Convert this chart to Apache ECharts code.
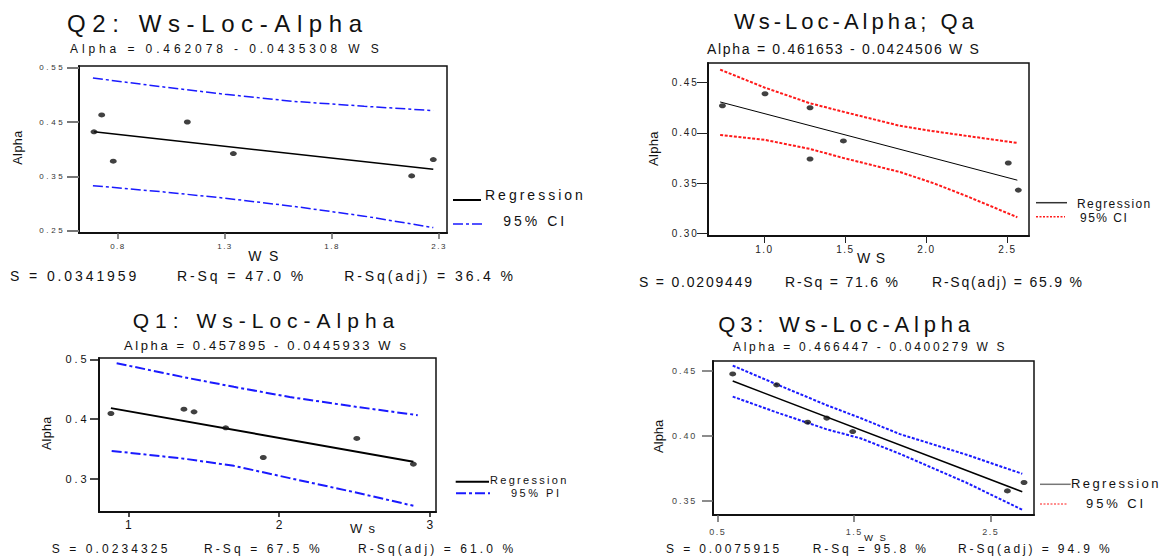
<!DOCTYPE html>
<html>
<head>
<meta charset="utf-8">
<title>Ws-Loc-Alpha regressions</title>
<script src="https://cdn.jsdelivr.net/npm/echarts@6/dist/echarts.min.js"></script>
<style>
  html, body { margin: 0; padding: 0; background: #fff; }
  #chart { width: 1162px; height: 559px; }
</style>
</head>
<body>
<div id="chart"></div>
<script>
// ---------- Q2: Ws-Loc-Alpha ----------
const q2Fit = { b0: 0.462078, b1: 0.0435308 };
const q2Ws = [0.688, 0.724, 0.778, 1.124, 1.339, 2.172, 2.273];
const q2Alpha = [0.432, 0.463, 0.378, 0.450, 0.392, 0.351, 0.381];
const q2LineWs = [0.688, 2.273];
const q2BandWs = [0.683, 1.0, 1.3, 1.62, 1.95, 2.273];
const q2Upper = [0.531, 0.515, 0.501, 0.488, 0.479, 0.471];
const q2Lower = [0.333, 0.322, 0.310, 0.295, 0.277, 0.256];
const q2XTicks = [0.8, 1.3, 1.8, 2.3];
const q2YTicks = [0.25, 0.35, 0.45, 0.55];
const q2Stats = ['S = 0.0341959', 'R-Sq = 47.0 %', 'R-Sq(adj) = 36.4 %'];

// ---------- Ws-Loc-Alpha; Qa ----------
const qaFit = { b0: 0.461653, b1: 0.0424506 };
const qaWs = [0.741, 1.004, 1.282, 1.488, 1.282, 2.506, 2.568];
const qaAlpha = [0.427, 0.439, 0.425, 0.392, 0.374, 0.370, 0.343];
const qaLineWs = [0.727, 2.562];
const qaBandWs = [0.727, 1.004, 1.282, 1.488, 1.838, 2.043, 2.249, 2.562];
const qaUpper = [0.463, 0.445, 0.4295, 0.421, 0.407, 0.4017, 0.397, 0.390];
const qaLower = [0.398, 0.393, 0.384, 0.375, 0.361, 0.350, 0.337, 0.316];
const qaXTicks = [1.0, 1.5, 2.0, 2.5];
const qaYTicks = [0.30, 0.35, 0.40, 0.45];
const qaStats = ['S = 0.0209449', 'R-Sq = 71.6 %', 'R-Sq(adj) = 65.9 %'];

// ---------- Q1: Ws-Loc-Alpha ----------
const q1Fit = { b0: 0.457895, b1: 0.0445933 };
const q1Ws = [0.885, 1.369, 1.436, 1.646, 1.895, 2.515, 2.890];
const q1Alpha = [0.4095, 0.4167, 0.4122, 0.3855, 0.336, 0.3678, 0.3249];
const q1LineWs = [0.885, 2.890];
const q1UpperWs = [0.923, 1.37, 1.70, 2.07, 2.50, 2.919];
const q1Upper = [0.4935, 0.470, 0.454, 0.437, 0.421, 0.4067];
const q1LowerWs = [0.89, 1.37, 1.70, 2.07, 2.50, 2.89];
const q1Lower = [0.347, 0.334, 0.322, 0.3015, 0.278, 0.2553];
const q1XTicks = [1, 2, 3];
const q1YTicks = [0.3, 0.4, 0.5];
const q1Stats = ['S = 0.0234325', 'R-Sq = 67.5 %', 'R-Sq(adj) = 61.0 %'];

// ---------- Q3: Ws-Loc-Alpha ----------
const q3Fit = { b0: 0.466447, b1: 0.0400279 };
const q3Ws = [0.61, 0.932, 1.159, 1.299, 1.489, 2.622, 2.744];
const q3Alpha = [0.4475, 0.4391, 0.4105, 0.4136, 0.4033, 0.3578, 0.3642];
const q3LineWs = [0.61, 2.731];
const q3BandWs = [0.61, 0.932, 1.299, 1.55, 1.835, 2.324, 2.731];
const q3Upper = [0.4539, 0.4395, 0.4235, 0.4135, 0.4013, 0.3855, 0.3709];
const q3Lower = [0.4301, 0.418, 0.405, 0.398, 0.3862, 0.364, 0.3433];
const q3XTicks = [0.5, 1.5, 2.5];
const q3YTicks = [0.35, 0.40, 0.45];
const q3Stats = ['S = 0.0075915', 'R-Sq = 95.8 %', 'R-Sq(adj) = 94.9 %'];

// ---------- helpers ----------
const BASE_FONT = 'Liberation Sans, Arial, sans-serif';
const spacings = new Set();
// letter spacing is carried as a marker family name and applied to the SVG text
function fam(sp) {
  const k = Math.round(sp * 10);
  spacings.add(k);
  return 'lsp' + k + ', ' + BASE_FONT;
}
const pairs = (xs, ys) => xs.map((x, i) => [x, ys[i]]);
const fitLine = (fit, xs) => xs.map(x => [x, +(fit.b0 - fit.b1 * x).toFixed(6)]);
const eqText = (fit, v) => 'Alpha = ' + fit.b0 + ' - ' + fit.b1 + ' ' + v;

function txt(x, y, text, size, sp, color, extra) {
  return Object.assign({
    type: 'text', x: x, y: y, silent: true,
    style: {
      text: text, fontSize: size, fontFamily: fam(sp), fill: color || '#111',
      align: 'left', verticalAlign: 'middle',
      textAlign: 'left', textVerticalAlign: 'middle'
    }
  }, extra || {});
}
function vtxt(x, y, text, size, sp) {
  return {
    type: 'text', x: x, y: y, rotation: Math.PI / 2, silent: true,
    style: {
      text: text, fontSize: size, fontFamily: fam(sp), fill: '#111',
      align: 'center', verticalAlign: 'middle',
      textAlign: 'center', textVerticalAlign: 'middle'
    }
  };
}
function seg(x1, x2, y, color, width, dash) {
  return {
    type: 'line', silent: true,
    shape: { x1: x1, y1: y, x2: x2, y2: y },
    style: { stroke: color, lineWidth: width, lineDash: dash || null }
  };
}
function axisCfg(gi, min, max, ticks, dec, o) {
  return {
    type: 'value', gridIndex: gi, min: min, max: max, splitLine: { show: false },
    axisLine: { show: true, onZero: false, lineStyle: { color: '#111', width: 2 } },
    axisTick: { show: true, customValues: ticks, length: o.tickLen, lineStyle: { color: o.tickColor, width: o.tickWidth } },
    axisLabel: {
      customValues: ticks, formatter: v => v.toFixed(dec), margin: o.margin,
      fontSize: o.size, fontFamily: fam(o.sp), color: o.color
    }
  };
}
function panelSeries(gi, ws, alpha, lineData, upper, lower, regWidth, bandColor, bandWidth, bandDash) {
  const band = (data) => ({
    type: 'line', xAxisIndex: gi, yAxisIndex: gi, data: data, symbol: 'none',
    smooth: false, silent: true, z: 2,
    lineStyle: { color: bandColor, width: bandWidth, type: bandDash }
  });
  return [
    band(upper), band(lower),
    {
      type: 'line', xAxisIndex: gi, yAxisIndex: gi, data: lineData, symbol: 'none',
      silent: true, z: 3, lineStyle: { color: '#000', width: regWidth }
    },
    {
      type: 'scatter', xAxisIndex: gi, yAxisIndex: gi, data: pairs(ws, alpha),
      symbol: 'circle', symbolSize: [7, 5], silent: true, z: 4,
      itemStyle: { color: '#111' }
    }
  ];
}

const DASHDOT = [10, 3, 3, 3];
const DOTS = [3, 1.6];

const grids = [
  { left: 79, top: 66, width: 368, height: 167 },
  { left: 708, top: 63, width: 321, height: 173 },
  { left: 99, top: 358, width: 337, height: 154 },
  { left: 713, top: 361, width: 321, height: 154 }
].map(g => Object.assign(g, { show: true, borderColor: '#111', borderWidth: 1.5, backgroundColor: 'transparent', containLabel: false, outerBoundsMode: 'none' }));

const xAxes = [
  axisCfg(0, 0.618, 2.337, q2XTicks, 1, { tickLen: 6, tickColor: '#666', tickWidth: 1.5, margin: 9.5, size: 8, sp: 1.5, color: '#333' }),
  axisCfg(1, 0.652, 2.634, qaXTicks, 1, { tickLen: 7, tickColor: '#222', tickWidth: 1, margin: 8, size: 10, sp: 1.4, color: '#222' }),
  axisCfg(2, 0.806, 3.04, q1XTicks, 0, { tickLen: 5, tickColor: '#111', tickWidth: 1.5, margin: 7, size: 12, sp: 0, color: '#111' }),
  axisCfg(3, 0.4656, 2.817, q3XTicks, 1, { tickLen: 7, tickColor: '#666', tickWidth: 1.5, margin: 12, size: 9, sp: 1.5, color: '#444' })
];
const yAxes = [
  axisCfg(0, 0.246, 0.553, q2YTicks, 2, { tickLen: 12, tickColor: '#777', tickWidth: 2, margin: 13.7, size: 8, sp: 2.6, color: '#333' }),
  axisCfg(1, 0.2973, 0.4696, qaYTicks, 2, { tickLen: 11, tickColor: '#222', tickWidth: 1, margin: 9.5, size: 10, sp: 1.8, color: '#222' }),
  axisCfg(2, 0.2449, 0.5022, q1YTicks, 1, { tickLen: 9, tickColor: '#111', tickWidth: 1.5, margin: 9.3, size: 11, sp: 3, color: '#111' }),
  axisCfg(3, 0.3393, 0.4574, q3YTicks, 2, { tickLen: 11, tickColor: '#666', tickWidth: 1.5, margin: 15.8, size: 9, sp: 1.9, color: '#444' })
];

const series = [].concat(
  panelSeries(0, q2Ws, q2Alpha, fitLine(q2Fit, q2LineWs), pairs(q2BandWs, q2Upper), pairs(q2BandWs, q2Lower), 1.5, '#1a1aff', 1.5, DASHDOT),
  panelSeries(1, qaWs, qaAlpha, fitLine(qaFit, qaLineWs), pairs(qaBandWs, qaUpper), pairs(qaBandWs, qaLower), 1, '#ff1a1a', 2, DOTS),
  panelSeries(2, q1Ws, q1Alpha, fitLine(q1Fit, q1LineWs), pairs(q1UpperWs, q1Upper), pairs(q1LowerWs, q1Lower), 2, '#1a1aff', 2, DASHDOT),
  panelSeries(3, q3Ws, q3Alpha, fitLine(q3Fit, q3LineWs), pairs(q3BandWs, q3Upper), pairs(q3BandWs, q3Lower), 1.5, '#1a1aff', 2, DOTS)
);

const graphics = [
  // Q2 panel
  txt(67, 23.5, 'Q2: Ws-Loc-Alpha', 24, 6.6),
  txt(70, 49.2, eqText(q2Fit, 'W S'), 12, 3.9),
  txt(248.3, 255.7, 'W S', 14, 1.8),
  vtxt(17.5, 147.5, 'Alpha', 12.5, 0.5),
  txt(10, 275.7, q2Stats[0], 14, 2.9),
  txt(177, 275.7, q2Stats[1], 14, 2.9),
  txt(344.3, 275.7, q2Stats[2], 14, 2.9),
  seg(453, 481, 200, '#000', 2),
  seg(453, 483, 224, '#1a1aff', 1.5, DASHDOT),
  txt(485, 195, 'Regression', 14, 3),
  txt(503.3, 221, '95% CI', 14, 3),

  // Qa panel
  txt(734, 21.2, 'Ws-Loc-Alpha; Qa', 22, 4),
  txt(707, 49, eqText(qaFit, 'W S'), 14, 1.7),
  txt(857, 258.3, 'W S', 14, 0.8),
  vtxt(653, 148.5, 'Alpha', 13, 0.3),
  txt(639, 282, qaStats[0], 14, 1.8),
  txt(785, 282, qaStats[1], 14, 1.8),
  txt(932, 282, qaStats[2], 14, 1.8),
  seg(1036, 1067, 202.7, '#333', 1.5),
  seg(1036, 1065, 216.7, '#ff1a1a', 1.5, [2, 1.5]),
  txt(1077, 204, 'Regression', 12, 1.4),
  txt(1080, 218, '95% CI', 12, 1.5),

  // Q1 panel
  txt(132.7, 320, 'Q1: Ws-Loc-Alpha', 21, 6),
  txt(124, 345, eqText(q1Fit, 'W s'), 13, 2.6),
  txt(350, 528.3, 'W s', 13, 1.3),
  vtxt(46.7, 433.3, 'Alpha', 12.5, 0.3),
  txt(51.7, 549.3, q1Stats[0], 12, 3.1),
  txt(204, 549.3, q1Stats[1], 12, 3.1),
  txt(358, 549.3, q1Stats[2], 12, 3.1),
  seg(455.7, 489, 481.7, '#000', 2),
  seg(456, 490, 493.3, '#1a1aff', 2, DASHDOT),
  txt(490, 480, 'Regression', 11, 2.3),
  txt(511, 493.3, '95% PI', 11, 2.5),

  // Q3 panel
  txt(718.3, 324.5, 'Q3: Ws-Loc-Alpha', 22, 4.8),
  txt(733, 346.7, eqText(q3Fit, 'W S'), 12, 2.65),
  txt(864, 537.5, 'W S', 9.5, 2),
  vtxt(658, 436.3, 'Alpha', 13, 0),
  txt(666, 548.8, q3Stats[0], 12, 2.9),
  txt(812.7, 548.8, q3Stats[1], 12, 2.9),
  txt(958, 548.8, q3Stats[2], 12, 2.9),
  seg(1040, 1070.7, 484.3, '#777', 1.5),
  seg(1040, 1068, 504, '#ff1a1a', 1, [2, 1.5]),
  txt(1071, 483.3, 'Regression', 13, 2.4),
  txt(1086, 503, '95% CI', 13, 2.9)
];

// CSS rules turning the marker family names into letter spacing
const css = [];
spacings.forEach(k => {
  if (k > 0) css.push('#chart text[style*="lsp' + k + ',"]{letter-spacing:' + (k / 10) + 'px}');
});
const styleEl = document.createElement('style');
styleEl.textContent = css.join('\n');
document.head.appendChild(styleEl);

const chart = echarts.init(document.getElementById('chart'), null, { renderer: 'svg', width: 1162, height: 559 });
chart.setOption({
  animation: false,
  backgroundColor: '#fff',
  grid: grids,
  xAxis: xAxes,
  yAxis: yAxes,
  series: series,
  graphic: graphics
});

function applySpacing() {
  document.querySelectorAll('#chart text').forEach(t => {
    const s = (t.getAttribute('style') || '') + ' ' + (t.getAttribute('font-family') || '');
    const m = s.match(/lsp(\d+)/);
    if (m && +m[1] > 0) t.setAttribute('letter-spacing', (m[1] / 10) + 'px');
  });
}
applySpacing();
chart.on('finished', applySpacing);
setTimeout(applySpacing, 50);
</script>
</body>
</html>
